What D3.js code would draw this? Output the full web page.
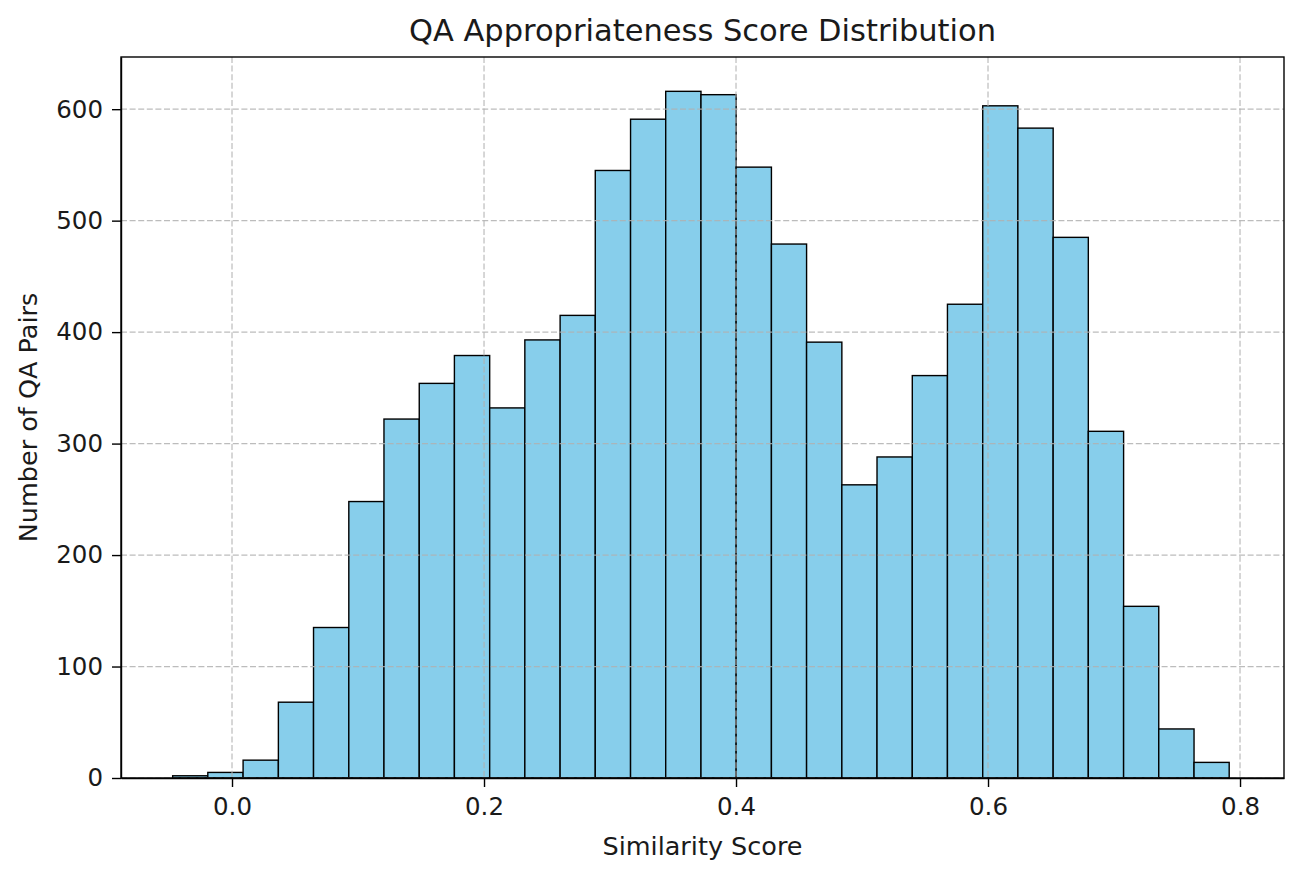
<!DOCTYPE html>
<meta charset="utf-8">
<style>
body { margin: 0; background: #fff; }
text { font-family: "DejaVu Sans", sans-serif; fill: #1a1a1a; }
.grid line { stroke: #b0b0b0; stroke-opacity: 0.85; stroke-dasharray: 6,2.6; stroke-width: 1.2px; }
.axis path, .axis line { stroke: #000; stroke-width: 1.4px; }
.bars rect { fill: #87ceeb; stroke: #000; stroke-width: 1.4px; }
</style>
<svg width="1292" height="871"></svg>
<script src="https://d3js.org/d3.v7.min.js"></script>
<script>
// histogram bin edges (30 bins) and counts
var binEdges = [-0.0471, -0.0192, 0.0088, 0.0368, 0.0647, 0.0927, 0.1206, 0.1486,
                0.1765, 0.2045, 0.2324, 0.2604, 0.2883, 0.3163, 0.3442, 0.3722,
                0.4001, 0.4281, 0.4560, 0.4840, 0.5119, 0.5399, 0.5678, 0.5958,
                0.6237, 0.6517, 0.6796, 0.7076, 0.7355, 0.7635, 0.7914];
var counts = [2, 5, 16, 68, 135, 248, 322, 354, 379, 332, 393, 415, 545, 591, 616,
              613, 548, 479, 391, 263, 288, 361, 425, 603, 583, 485, 311, 154, 44, 14];
var xTicks = [0.0, 0.2, 0.4, 0.6, 0.8];
var yTicks = [0, 100, 200, 300, 400, 500, 600];

var svg = d3.select("svg");
var pLeft = 121, pRight = 1284, pTop = 57, pBottom = 778;

var x = d3.scaleLinear().domain([-0.0881, 0.8349]).range([pLeft, pRight]);
var y = d3.scaleLinear().domain([0, 646.8]).range([pBottom, pTop]);

var bins = counts.map(function(c, i) { return {x0: binEdges[i], x1: binEdges[i + 1], n: c}; });

// bars
svg.append("g").attr("class", "bars")
  .selectAll("rect")
  .data(bins)
  .enter().append("rect")
    .attr("x", function(d) { return x(d.x0); })
    .attr("y", function(d) { return y(d.n); })
    .attr("width", function(d) { return x(d.x1) - x(d.x0); })
    .attr("height", function(d) { return y(0) - y(d.n); });

// grid on top of bars
var grid = svg.append("g").attr("class", "grid");
grid.selectAll(".gx").data(xTicks).enter().append("line")
    .attr("x1", function(d) { return x(d); }).attr("x2", function(d) { return x(d); })
    .attr("y1", pTop).attr("y2", pBottom);
grid.selectAll(".gy").data(yTicks).enter().append("line")
    .attr("y1", function(d) { return y(d); }).attr("y2", function(d) { return y(d); })
    .attr("x1", pLeft).attr("x2", pRight);

// axes
svg.append("g").attr("class", "axis")
    .attr("transform", "translate(0," + pBottom + ")")
    .call(d3.axisBottom(x).tickValues(xTicks).tickFormat(d3.format(".1f")).tickSizeInner(9).tickSizeOuter(0).tickPadding(11));
svg.append("g").attr("class", "axis")
    .attr("transform", "translate(" + pLeft + ",0)")
    .call(d3.axisLeft(y).tickValues(yTicks).tickFormat(d3.format("d")).tickSizeInner(9).tickSizeOuter(0).tickPadding(9));
svg.selectAll(".axis text").style("font-size", "24.5px").style("font-family", "DejaVu Sans, sans-serif").attr("fill", "#1a1a1a");

// frame
svg.append("rect")
    .attr("x", pLeft).attr("y", pTop)
    .attr("width", pRight - pLeft).attr("height", pBottom - pTop)
    .attr("fill", "none").attr("stroke", "#000").attr("stroke-width", 1.4);

// labels
svg.append("text")
    .attr("x", (pLeft + pRight) / 2).attr("y", 41)
    .attr("text-anchor", "middle").style("font-size", "30.5px")
    .text("QA Appropriateness Score Distribution");
svg.append("text")
    .attr("x", (pLeft + pRight) / 2).attr("y", 855)
    .attr("text-anchor", "middle").style("font-size", "25.5px")
    .text("Similarity Score");
svg.append("text")
    .attr("transform", "translate(37," + (pTop + pBottom) / 2 + ") rotate(-90)")
    .attr("text-anchor", "middle").style("font-size", "25.5px")
    .text("Number of QA Pairs");
</script>
